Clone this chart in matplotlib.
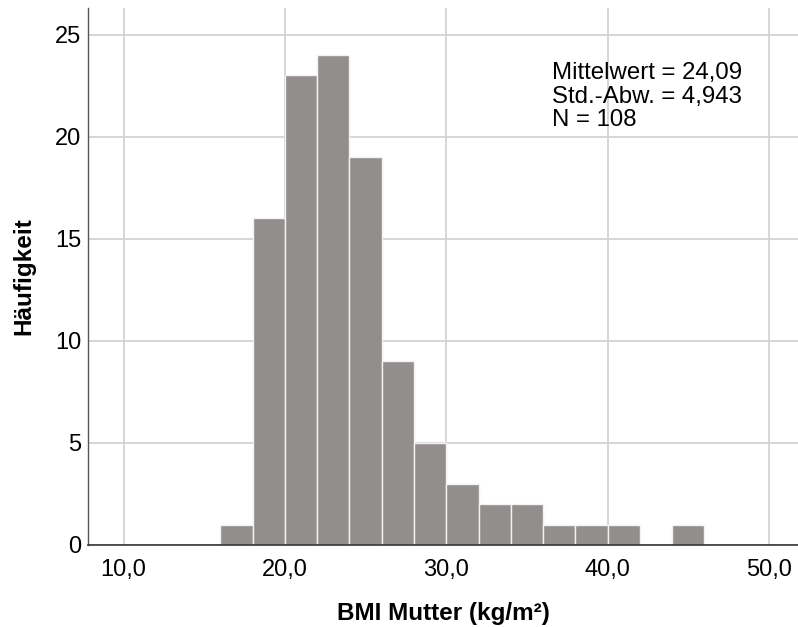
import matplotlib
matplotlib.use("Agg")
import matplotlib.pyplot as plt
import numpy as np

plt.rcParams['font.family'] = ['Liberation Sans', 'DejaVu Sans']

# Histogram of maternal BMI, bin width 2 kg/m²
bin_edges = [16, 18, 20, 22, 24, 26, 28, 30, 32, 34, 36, 38, 40, 42, 44, 46]
counts = [1, 16, 23, 24, 19, 9, 5, 3, 2, 2, 1, 1, 1, 0, 1]

x_ticks = [10, 20, 30, 40, 50]
x_tick_labels = ["10,0", "20,0", "30,0", "40,0", "50,0"]
y_ticks = [0, 5, 10, 15, 20, 25]

stats_lines = ["Mittelwert = 24,09", "Std.-Abw. = 4,943", "N = 108"]

fig = plt.figure(figsize=(7.98, 6.27), dpi=100)
ax = fig.add_axes([0.1103, 0.1308, 0.8897, 0.8564])

left = np.array(bin_edges[:-1])
width = np.diff(bin_edges)
ax.bar(left, counts, width=width, align='edge', color='#928e8d',
       edgecolor='#f2f2f2', linewidth=1.0, zorder=2)

ax.set_xlim(7.8, 51.8)
ax.set_ylim(0, 26.3)
ax.set_xticks(x_ticks)
ax.set_xticklabels(x_tick_labels)
ax.set_yticks(y_ticks)
ax.tick_params(axis='both', length=0, labelsize=17, colors='black')
ax.tick_params(axis='x', pad=10)
ax.tick_params(axis='y', pad=5)

ax.grid(True, color='#d0d0d0', linewidth=1.2, zorder=0)
ax.set_axisbelow(True)

for side in ('top', 'right'):
    ax.spines[side].set_visible(False)
ax.spines['left'].set_color('#555555')
ax.spines['bottom'].set_color('#333333')
ax.spines['left'].set_linewidth(1.0)
ax.spines['bottom'].set_linewidth(1.2)

ax.set_xlabel("BMI Mutter (kg/m²)", fontsize=17.5, fontweight='bold', labelpad=15)
ax.set_ylabel("Häufigkeit", fontsize=17.5, fontweight='bold', labelpad=14)

ax.text(0.6535, 0.899, "\n".join(stats_lines), transform=ax.transAxes,
        fontsize=17.3, va='top', ha='left', linespacing=1.08, zorder=3)

fig.savefig("out.png", dpi=100)
